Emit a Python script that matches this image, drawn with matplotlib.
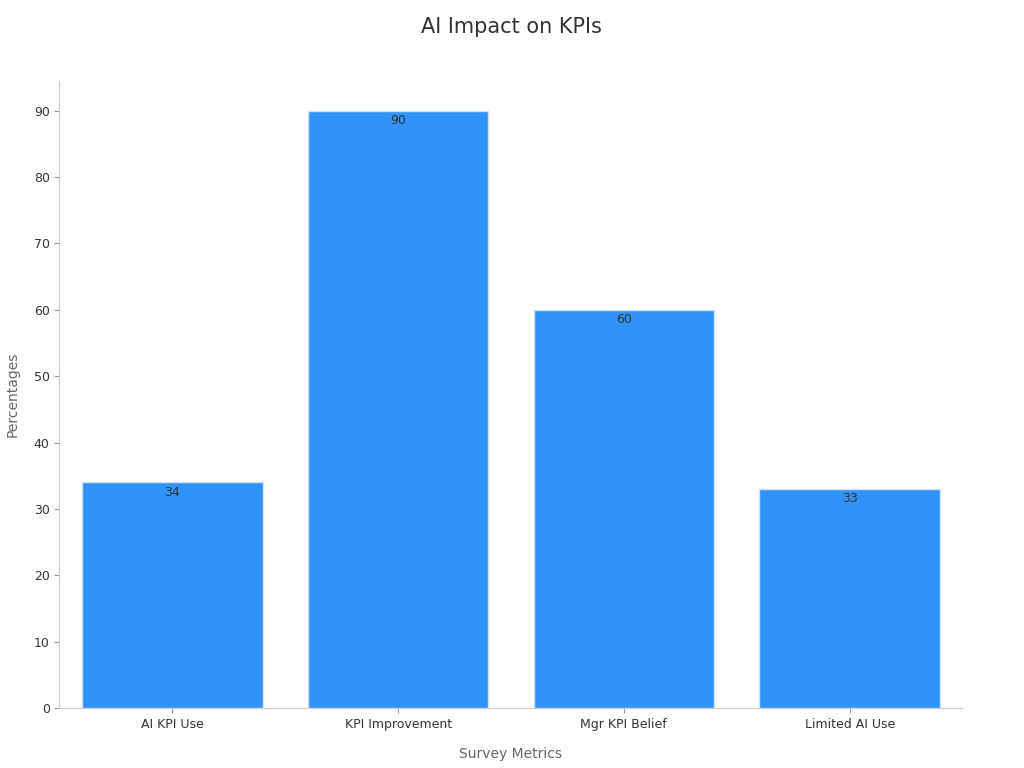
import matplotlib.pyplot as plt

categories = ["AI KPI Use", "KPI Improvement", "Mgr KPI Belief", "Limited AI Use"]
values = [34, 90, 60, 33]

fig, ax = plt.subplots(figsize=(10.24, 7.68), dpi=100)
fig.subplots_adjust(left=0.058, right=0.94, top=0.895, bottom=0.078)

bars = ax.bar(categories, values, width=0.8, color="#2f93f8", edgecolor="#cfe3fb", linewidth=1)
for b, v in zip(bars, values):
    ax.text(b.get_x() + b.get_width() / 2, v - 0.5, str(v), ha="center", va="top",
            fontsize=9, color="#333333")

ax.set_title("AI Impact on KPIs", fontsize=15, color="#333333", pad=34)
ax.set_xlabel("Survey Metrics", fontsize=10, color="#666666", labelpad=12)
ax.set_ylabel("Percentages", fontsize=10, color="#666666", labelpad=10)
ax.set_ylim(0, 94.5)
ax.set_xlim(-0.5, 3.5)
ax.set_yticks(range(0, 91, 10))
ax.tick_params(labelsize=9, colors="#333333")
ax.tick_params(color="#999999")
for s in ["top", "right"]:
    ax.spines[s].set_visible(False)
for s in ["left", "bottom"]:
    ax.spines[s].set_color("#cccccc")

fig.savefig("out.png")
